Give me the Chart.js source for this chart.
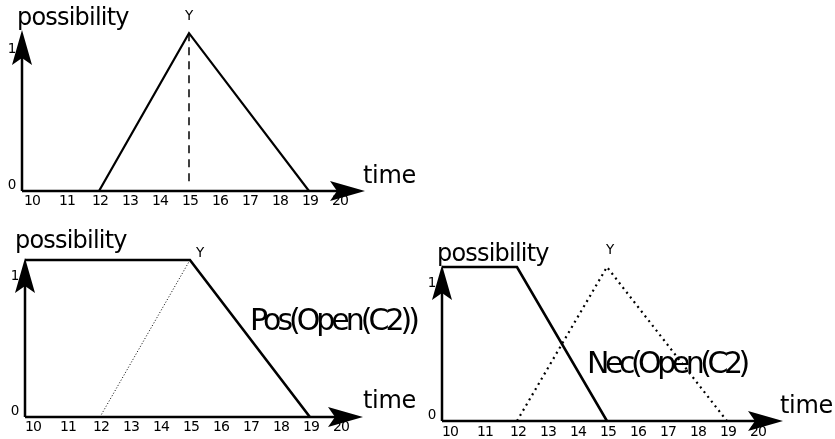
<!DOCTYPE html>
<html>
<head>
<meta charset="utf-8">
<script src="https://cdn.jsdelivr.net/npm/chart.js@4/dist/chart.umd.min.js"></script>
<style>
  html, body { margin: 0; padding: 0; background: #fff; }
  body { position: relative; width: 835px; height: 439px; overflow: hidden; }
  canvas { position: absolute; }
</style>
</head>
<body>
<canvas id="p1" width="420" height="215" style="left:0;top:0"></canvas>
<canvas id="p2" width="420" height="219" style="left:0;top:220px"></canvas>
<canvas id="p3" width="415" height="219" style="left:420px;top:220px"></canvas>
<script>
"use strict";

// ---- data ----
const TIME_TICKS = [10, 11, 12, 13, 14, 15, 16, 17, 18, 19, 20];
const POSS_TICKS = [0, 1];

// top: triangle possibility of Y
const triTime = [12, 15, 19];
const triPoss = [0, 1, 0];
const peakTime = [15, 15];
const peakPoss = [1, 0.05];

// bottom left: Pos(Open(C2))
const posTime = [9.5, 15, 19];
const posPoss = [1, 1, 0];
const riseTime = [12, 15];
const risePoss = [0, 1];

// bottom right: Nec(Open(C2))
const necTime = [9.5, 12, 15];
const necPoss = [1, 1, 0];

const FONT = '"DejaVu Sans", sans-serif';

function pts(xs, ys) {
  return xs.map((x, i) => ({ x, y: ys[i] }));
}

/* arrow head with a notched back, tip at (x, y) */
function arrowHead(ctx, x, y, dir) {
  const len = 35, half = 10, notch = 7;
  ctx.save();
  ctx.translate(x, y);
  if (dir === "up") ctx.rotate(-Math.PI / 2);
  ctx.beginPath();
  ctx.moveTo(0, 0);
  ctx.lineTo(-len, -half);
  ctx.lineTo(-len + notch, 0);
  ctx.lineTo(-len, half);
  ctx.closePath();
  ctx.fillStyle = "#000";
  ctx.fill();
  ctx.restore();
}

function text(ctx, str, x, y, size, spacing, align, baseline) {
  ctx.save();
  ctx.font = `${size}px ${FONT}`;
  ctx.letterSpacing = (spacing || 0) + "px";
  ctx.textAlign = align || "left";
  ctx.textBaseline = baseline || "alphabetic";
  ctx.fillStyle = "#000";
  ctx.fillText(str, x, y);
  ctx.restore();
}

/* axes, arrows, tick labels and annotations */
const diagramPlugin = {
  id: "diagram",
  afterDatasetsDraw(chart, args, o) {
    const ctx = chart.ctx;
    const xs = chart.scales.x, ys = chart.scales.y;
    const x0 = xs.left, y0 = ys.getPixelForValue(0);

    ctx.save();
    ctx.strokeStyle = "#000";
    ctx.lineWidth = 2.5;
    ctx.beginPath();
    ctx.moveTo(x0, y0);
    ctx.lineTo(xs.right - 20, y0);
    ctx.moveTo(x0, y0);
    ctx.lineTo(x0, ys.top + 20);
    ctx.stroke();
    ctx.restore();
    arrowHead(ctx, xs.right, y0, "right");
    arrowHead(ctx, x0, ys.top, "up");

    TIME_TICKS.forEach(t => {
      // the first two labels sit a little left of their tick in the drawing
      const shift = t === 10 ? -7 : t === 11 ? -2 : 1;
      text(ctx, String(t), xs.getPixelForValue(t) + shift, y0 + o.tickDy, 14, -1, "center", "middle");
    });
    text(ctx, String(POSS_TICKS[0]), x0 - 10, y0 - 6, 13.5, 0, "center", "middle");
    text(ctx, String(POSS_TICKS[1]), x0 - 10, ys.getPixelForValue(1) + 16, 13.5, 0, "center", "middle");

    text(ctx, "possibility", o.poss[0], o.poss[1], 24, -0.8);
    text(ctx, "time", o.time[0], o.time[1], 24, -0.3);
    text(ctx, "Y", o.y[0], o.y[1], 13.5, 0, "center", "middle");
    if (o.note) text(ctx, o.note.str, o.note.x, o.note.y, 30, o.note.sp);
  },
};

function makeChart(id, xMin, xMax, yMax, padding, datasets, diagram) {
  return new Chart(document.getElementById(id), {
    type: "line",
    data: {
      datasets: datasets.map(d => Object.assign({
        borderColor: "#000",
        borderWidth: 2.5,
        pointRadius: 0,
        tension: 0,
        fill: false,
      }, d)),
    },
    options: {
      responsive: false,
      animation: false,
      devicePixelRatio: 1,
      layout: { padding },
      plugins: { legend: { display: false }, tooltip: { enabled: false }, diagram },
      scales: {
        x: { type: "linear", min: xMin, max: xMax, display: false },
        y: { type: "linear", min: 0, max: yMax, display: false },
      },
    },
    plugins: [diagramPlugin],
  });
}

makeChart("p1", 9.433, 20.867, 1.02,
  { left: 22, top: 30, right: 55, bottom: 24 },
  [
    { data: pts(triTime, triPoss), borderWidth: 2.2 },
    { data: pts(peakTime, peakPoss), borderWidth: 1.5, borderDash: [8, 6] },
  ],
  { tickDy: 10, poss: [17, 25], time: [363, 183], y: [189, 16] });

makeChart("p2", 9.5, 20.77, 1.013,
  { left: 25, top: 38, right: 57, bottom: 22 },
  [
    { data: pts(posTime, posPoss), borderWidth: 2.6 },
    { data: pts(riseTime, risePoss), borderWidth: 1, borderDash: [1, 2] },
  ],
  { tickDy: 10, poss: [15, 28], time: [363, 188], y: [200, 33],
    note: { str: "Pos(Open(C2))", x: 250, y: 110, sp: -4 } });

makeChart("p3", 9.5, 20.87, 1.013,
  { left: 22, top: 45, right: 52, bottom: 18 },
  [
    { data: pts(necTime, necPoss), borderWidth: 2.6 },
    { data: pts(triTime, triPoss), borderWidth: 2.2, borderDash: [2, 4] },
  ],
  { tickDy: 11, poss: [17, 41], time: [360, 193], y: [190, 30],
    note: { str: "Nec(Open(C2)", x: 167, y: 153, sp: -4.5 } });
</script>
</body>
</html>
